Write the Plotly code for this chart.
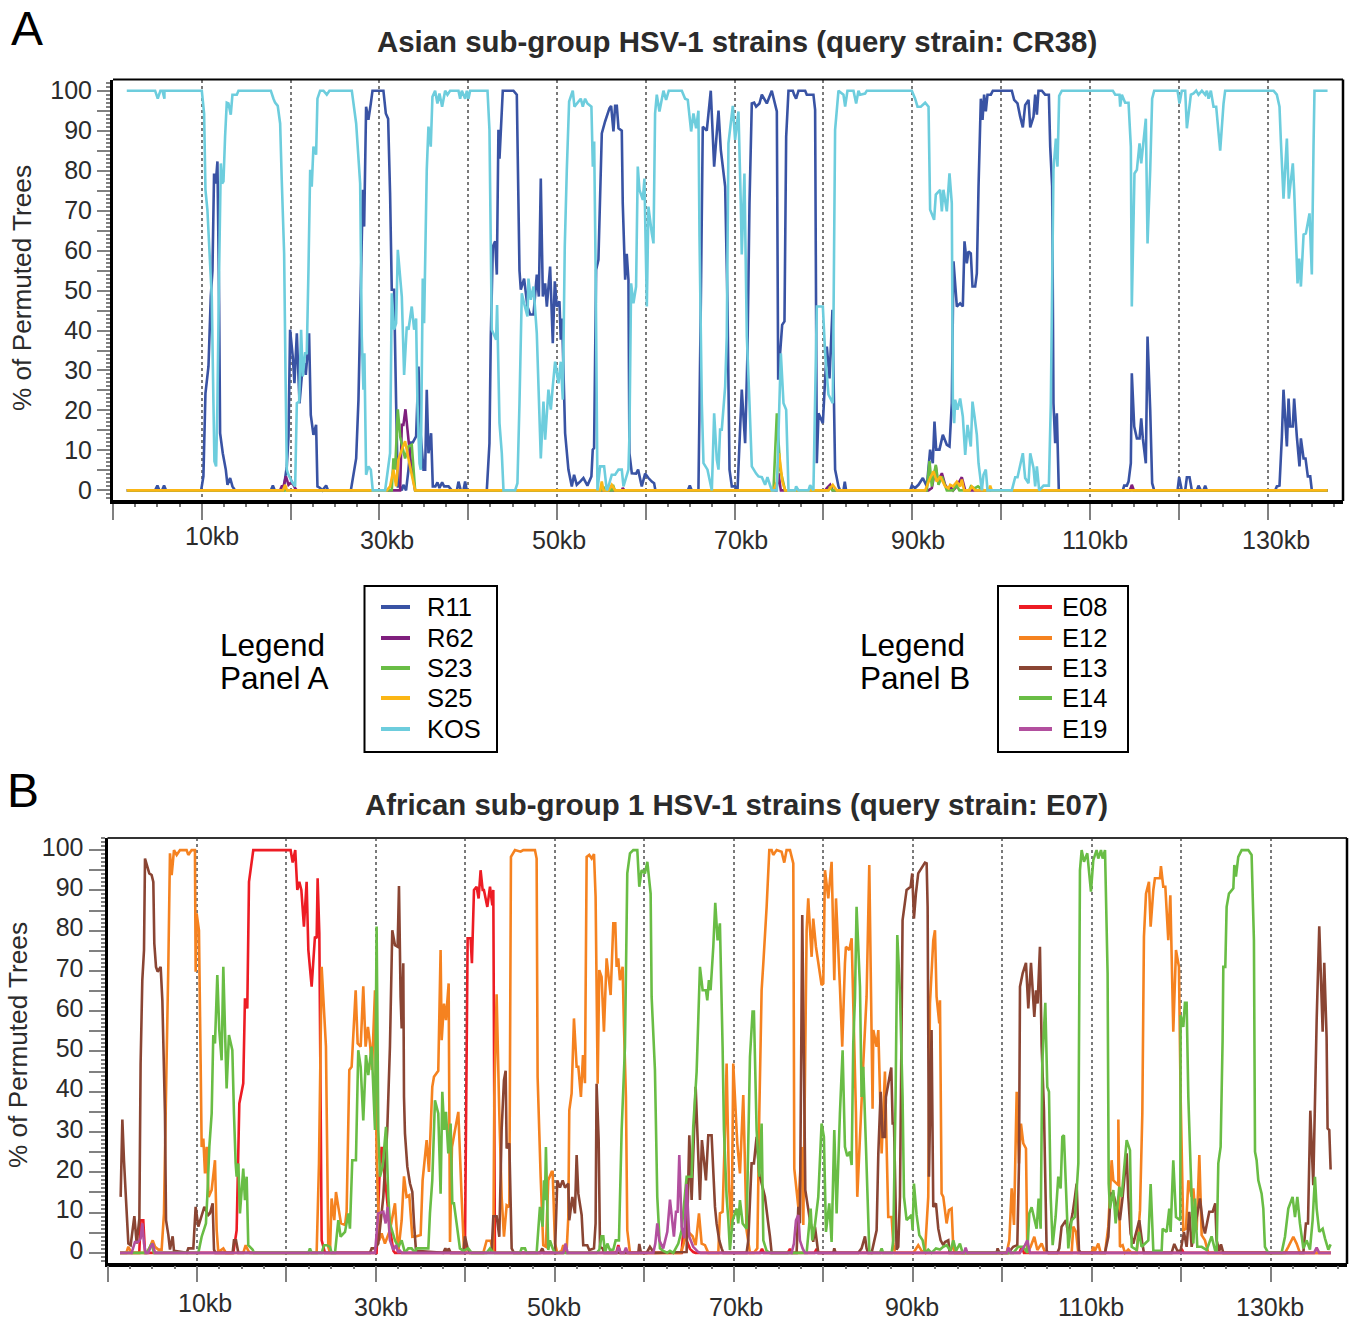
import plotly.graph_objects as go

# Each series is a list of (genome position in kb, % of permuted trees).
R11 = [(1.55,0),(4.74,0),(5.0,1.2),(5.23,0),(5.52,0),(5.75,1.2),(5.98,0),(9.92,0),(10.18,3.5),(10.41,24.3),(10.75,31),(11.01,48.5),(11.2,55),(11.38,79.3),(11.57,76.8),(11.76,82.3),(11.95,46.8),(12.06,14.3),(12.36,9.3),(12.7,5.2),(12.89,1.4),(13.19,3.1),(13.45,1),(13.75,0),(17.77,0),(18,1.2),(18.22,0),(19.19,0),(19.57,6),(19.76,13.5),(19.94,40.2),(20.24,33.5),(20.43,26.8),(20.7,39.3),(21.0,21.8),(21.26,28.5),(21.52,31.8),(21.71,28.9),(22.08,39.3),(22.27,18.9),(22.57,13.9),(22.87,16.4),(23.02,1),(23.32,0.6),(23.58,0),(24,1.2),(24.22,0),(26.78,0),(27.38,8),(27.64,22.7),(27.94,55),(28.13,75.2),(28.28,66),(28.5,96),(28.76,92.7),(29.03,96.8),(29.22,100),(30.45,100),(30.72,94.3),(30.98,93),(31.2,74.3),(31.39,50.2),(31.65,50.2),(31.88,21.8),(32.07,1),(32.3,1),(32.52,0),(32.7,1.4),(33.0,0),(33.27,5.2),(33.53,12),(33.76,12),(34.13,13.5),(34.4,31),(34.66,13.5),(34.96,5.2),(35.15,5.2),(35.33,25.2),(35.52,9.3),(35.82,14.3),(36.01,1),(36.3,1),(36.53,2),(36.76,0.6),(37.06,2),(37.29,1),(37.78,1),(38.15,0),(38.72,0),(38.9,2.2),(39.16,0),(39.46,0),(39.65,2.2),(39.84,0),(42.09,0),(42.39,11.8),(42.54,38.5),(42.77,61),(43.03,62.3),(43.22,54),(43.4,90.2),(43.52,83),(43.89,100),(45.09,100),(45.47,99),(45.77,55),(45.92,50.2),(46.29,53),(46.67,46),(46.97,44),(47.35,44),(47.72,54),(47.95,48.5),(48.17,78),(48.4,48.5),(48.66,51.8),(48.85,46),(49.22,56),(49.52,36.8),(49.75,52.3),(49.97,46),(50.27,47.3),(50.42,37.7),(50.57,43),(50.72,30.2),(50.91,14.3),(51.28,5.2),(51.66,1),(51.92,3.9),(52.22,1.4),(52.6,2.2),(52.97,3.1),(53.42,1.2),(53.87,3.5),(54.02,10.2),(54.17,10.6),(54.4,55.2),(54.66,57.7),(55.04,89.3),(55.41,92.3),(55.9,95.6),(56.09,96.2),(56.35,89.8),(56.54,96.2),(56.73,96.2),(56.92,90.6),(57.29,90),(57.4,71.8),(57.67,52.7),(57.85,59.2),(58.04,52.7),(58.15,9.3),(58.42,4.3),(58.9,4.2),(59.13,5.2),(59.54,1),(59.92,4.2),(60.29,3.1),(60.67,2.2),(60.93,1.8),(61.08,0),(64.72,0),(64.95,1.2),(65.17,0),(65.92,0),(66.19,46.8),(66.41,91),(66.86,90),(67.31,100),(67.69,81),(68.18,95),(68.44,85.2),(68.93,76),(69.19,46.8),(69.42,5.2),(69.68,1),(70.05,1),(70.32,0),(70.8,25.2),(71.18,11.8),(71.44,34.3),(71.67,71.8),(71.93,96.8),(72.19,97),(72.42,96),(72.79,96.8),(73.06,99),(73.62,96.8),(74.18,100),(74.75,94.8),(74.9,27.7),(75.35,41.4),(75.61,42.3),(75.8,88.5),(76.06,100),(76.55,100),(76.7,99),(76.92,98),(77.19,100),(77.94,100),(78.12,99),(78.87,99),(79.06,95.2),(79.25,6.8),(79.44,19.3),(79.93,16.8),(80.38,36),(80.68,28),(81.01,45.2),(81.31,5.2),(81.69,1),(81.88,0),(82.25,0),(82.4,2.2),(82.55,0),(89.76,0),(89.95,1.2),(90.32,0.6),(90.7,1.4),(91.19,3.1),(91.64,1),(92.01,10.2),(92.31,6.8),(92.5,17.2),(92.69,10.2),(93.06,10.2),(93.44,13.9),(93.89,11.4),(94.19,11),(94.45,21.8),(94.64,57.3),(95.02,46),(95.39,46.8),(95.69,46),(95.88,62.3),(96.14,56.8),(96.33,59.8),(96.59,59.3),(96.78,51),(97.08,51),(97.27,54.3),(97.46,76),(97.72,98),(97.91,92.7),(98.09,99),(98.28,94.8),(98.47,99),(98.85,99),(99.07,100),(101.21,100),(101.47,97.7),(101.85,96.8),(102.15,93.5),(102.45,90.8),(102.71,96.4),(103.09,97.7),(103.28,90.8),(103.65,93.5),(103.84,99),(104.03,94),(104.21,100),(104.59,100),(104.96,99),(105.38,99),(105.53,86),(105.75,76),(105.9,21.8),(106.09,11.8),(106.28,19.3),(106.5,0),(113.71,0),(113.86,1.2),(114.16,1.2),(114.35,2.2),(114.61,6.8),(114.72,29.3),(114.99,16),(115.29,13),(115.59,13),(115.78,18),(115.96,13),(116.3,6.8),(116.49,38.5),(116.79,20.2),(117.01,1.8),(117.24,0),(119.87,0),(120.05,3.3),(120.35,0),(120.73,0),(120.92,3.3),(121.22,3.3),(121.48,0),(122.04,0),(122.23,1.2),(122.49,0),(122.79,0),(122.98,1.2),(123.17,0),(130.86,0),(131.05,1),(131.35,1.2),(131.62,13.5),(131.8,25.2),(132.18,11),(132.37,23),(132.55,16),(132.85,16),(133.0,23),(133.3,13.5),(133.6,6),(133.76,13),(134.06,8),(134.28,8),(134.54,3.5),(134.81,3.5),(134.99,0),(136.76,0)]

R62 = [(1.55,0),(18.8,0),(19.0,1),(19.2,1),(19.47,3.5),(19.76,1.4),(20.13,2.2),(20.5,0.6),(20.7,0),(32.33,0),(32.52,16.4),(32.7,16.4),(32.93,20.3),(33.27,12.7),(33.64,5.2),(34.02,0),(57.3,0),(57.4,0.6),(57.6,0),(74.7,0),(74.93,4.3),(75.2,0),(80.2,0),(80.38,0.6),(80.75,1.4),(81.05,0),(91.83,0),(92.2,0.6),(92.65,6),(92.85,2.2),(93.33,4.3),(93.7,1.4),(94.1,0),(94.27,1),(94.6,0),(95.0,1),(95.58,3.3),(95.96,0),(114.5,0),(114.72,1.4),(114.95,0),(136.76,0)]

S23 = [(1.55,0),(31.39,0),(31.58,8),(31.77,5.2),(32.07,20.3),(32.33,13.5),(32.89,8),(33.27,11),(33.64,11.4),(34.02,0),(55.0,0),(55.2,1),(55.4,0),(56.2,0),(56.3,1.4),(56.5,0),(74.37,0),(74.75,19.3),(75.13,5.2),(75.68,0),(80.56,0),(80.75,1),(81.0,0),(91.64,0),(91.94,7.3),(92.2,1),(92.65,6.4),(92.95,1.4),(93.33,3.5),(93.89,0),(94.6,0),(94.96,1.4),(95.3,0),(96.4,0),(96.6,1),(97.0,0.5),(97.4,1),(98.0,0),(136.76,0)]

S25 = [(1.55,0),(19.15,0),(19.38,1.4),(19.6,0),(30.83,0),(31.2,1),(31.58,5.2),(31.88,1),(32.14,7.7),(32.52,10.2),(32.89,12.3),(33.27,8),(33.64,3.9),(34.02,0),(54.85,0),(55.04,2.2),(55.23,0),(55.79,0),(56.16,1.4),(56.54,0),(74.37,0),(74.75,2.2),(75.0,9.3),(75.38,2.2),(75.68,0),(80.56,0),(81.05,1.4),(81.5,0),(91.45,0),(92.01,3.1),(92.39,4.8),(92.76,2.2),(93.14,3.5),(93.7,1),(94.08,0.5),(94.27,1.4),(94.6,1),(95.02,2.2),(95.39,1),(95.58,2.7),(95.84,0),(96.45,0),(96.7,1),(97.08,0),(98.6,0),(98.77,1.2),(98.95,0),(136.76,0)]

KOS = [(1.55,100),(4.74,100),(5.04,98),(5.34,100),(5.57,100),(5.79,98),(5.79,100),(10.0,100),(10.26,94.3),(10.41,75.2),(10.63,70.2),(10.93,56.8),(11.12,48.5),(11.31,21.8),(11.42,7.3),(11.61,6),(11.76,21.8),(11.95,55.2),(12.14,81.8),(12.29,76.8),(12.44,77.3),(12.62,88.5),(12.81,97),(13.0,96.8),(13.26,94),(13.45,99),(13.94,99),(14.13,100),(17.77,100),(18.07,98),(18.25,97),(18.55,96.2),(18.82,91.8),(19.0,77.7),(19.27,59.3),(19.42,30.2),(19.57,5.2),(19.76,3.9),(20.13,2.2),(20.51,1),(20.7,21.8),(20.96,22.2),(21.18,40.2),(21.37,28.5),(21.63,34.3),(21.82,34.3),(22.01,55.2),(22.2,80.2),(22.38,76),(22.57,86),(22.87,84),(23.02,98),(23.32,100),(23.7,100),(24.07,99),(24.37,100),(26.89,100),(27.38,91.8),(27.83,76.8),(28.01,38.5),(28.2,25.2),(28.31,34.3),(28.5,3.9),(28.76,6),(29.03,5.2),(29.25,0),(30.64,0),(30.9,4.3),(31.2,9.3),(31.39,49.3),(31.65,40.2),(31.88,41.8),(32.07,60.2),(32.52,48.5),(32.78,28.9),(33.08,41),(33.27,40.2),(33.64,46),(33.91,40.2),(34.13,43),(34.28,21.8),(34.51,6.8),(34.66,5.2),(34.88,53),(35.03,41.8),(35.33,80.2),(35.52,91),(35.78,86),(35.97,98.5),(36.27,100),(36.53,96.8),(36.76,99.3),(37.06,96),(37.4,100),(37.66,99),(37.96,100),(38.9,100),(39.09,98),(39.28,100),(39.65,98),(39.84,100),(40.03,98),(40.21,100),(42.17,100),(42.39,90.2),(42.65,40.2),(43.14,37.7),(43.25,46.4),(43.52,16.8),(43.78,9.3),(43.97,0),(45.28,0),(45.54,1.8),(45.77,21.8),(46.03,49.3),(46.29,46.8),(46.67,43.5),(46.78,53),(47.05,47.7),(47.35,51),(47.72,39.3),(48.17,8),(48.47,22.2),(48.66,12.7),(49.03,25.2),(49.3,20.2),(49.52,26),(49.78,32.2),(50.16,26.8),(50.42,32.2),(50.65,22.7),(50.87,61),(51.1,80.2),(51.36,97.3),(51.77,100),(51.96,96),(52.67,98),(52.9,96),(53.16,98),(53.42,96.8),(53.87,96),(54.03,81),(54.18,87.3),(54.36,51.8),(54.55,0),(54.85,6),(55.3,6),(55.6,0),(55.79,1),(56.16,3.9),(56.54,3.9),(56.92,5.2),(57.29,5.2),(57.48,1),(58.04,5.2),(58.15,13.5),(58.34,51.8),(58.6,46.8),(58.9,51),(59.09,81),(59.28,75.2),(59.66,72.7),(59.84,78),(60.11,46),(60.29,71),(60.67,64.3),(60.86,61.8),(61.04,94.3),(61.23,99),(61.53,94.8),(61.98,100),(62.28,97.7),(62.58,100),(64.05,100),(64.42,98),(64.72,97.7),(65.1,89.8),(65.36,94.3),(65.66,90.6),(65.92,95),(66.04,63.5),(66.3,21.8),(66.49,6.8),(66.94,5.2),(67.43,0),(67.69,19.3),(67.99,7.7),(68.18,5.2),(68.36,15.2),(68.55,15.2),(68.93,26),(69.11,38.5),(69.3,86.8),(69.79,96.2),(70.05,87.7),(70.43,94.8),(70.69,71.8),(70.8,59),(71.1,79.3),(71.37,38.5),(71.67,21.8),(71.93,6),(72.42,4.2),(72.68,3.5),(73.06,3.3),(73.43,1.4),(73.69,3.3),(74.18,0),(74.75,0),(75.2,34.3),(75.5,21.8),(75.8,20.2),(76.06,0),(76.81,0),(76.92,1),(77.19,0),(78.31,0),(78.5,1.3),(78.87,0),(79.25,46),(79.93,46),(80.19,34.3),(80.56,24),(81.05,21.8),(81.31,90.2),(81.69,100),(82.25,99),(82.44,96),(82.7,100),(83.38,100),(83.68,96.8),(83.94,100),(84.13,99),(84.69,99.3),(84.88,100),(89.95,100),(90.32,98),(90.59,96),(90.96,96),(91.45,97),(91.83,96),(92.01,70.2),(92.46,67.7),(92.65,74),(93.14,75.2),(93.33,69.8),(93.51,75.2),(93.89,69.8),(94.19,79.3),(94.45,71.8),(94.57,21.8),(94.72,16.8),(94.83,22.7),(95.09,20.2),(95.39,23),(95.69,18.5),(95.96,8.9),(96.22,16.4),(96.59,11),(96.78,22.2),(97.01,18.5),(97.27,13.9),(97.46,6.8),(97.83,0),(98.02,3.9),(98.28,5.2),(98.47,0),(101.21,0),(101.59,3.3),(101.85,3.3),(102.45,9.3),(102.71,3.1),(103.09,1.8),(103.28,9.3),(103.65,5.6),(103.84,1),(104.03,6),(104.29,0),(104.78,1.2),(105.38,1.2),(105.6,21.8),(105.9,80.2),(106.17,88),(106.35,81),(106.54,98.7),(106.84,100),(112.58,100),(112.85,99),(113.33,99),(113.41,96),(113.6,99),(113.97,97),(114.35,97),(114.61,86),(114.72,46),(115.02,79.3),(115.29,80.2),(115.59,86.8),(115.78,81.8),(116.3,93),(116.49,61.8),(116.79,80.2),(117.01,98),(117.24,100),(119.87,100),(120.09,96.8),(120.35,100),(120.73,100),(120.92,90.6),(121.37,99),(121.67,99.3),(121.97,100),(122.23,99),(122.61,100),(122.98,99),(123.17,100),(123.36,98),(123.62,100),(123.92,96),(124.22,96),(124.67,85),(125.05,96.8),(125.23,100),(130.68,100),(131.05,99),(131.35,96),(131.5,87.7),(131.8,73),(132.18,88),(132.4,73),(132.85,81.8),(133.0,75.2),(133.38,51.8),(133.57,58),(133.76,51),(134.06,64),(134.32,64.3),(134.73,69.3),(134.99,54),(135.18,86),(135.29,100),(136.76,100)]

E08 = [(1.4,0),(3.55,0),(3.7,8.1),(4.0,8.1),(4.19,0),(14.06,0),(14.43,5.6),(14.73,37.1),(15.17,42.1),(15.36,63.2),(15.62,60.7),(15.81,92.1),(16.29,100),(20.46,100),(20.69,96.9),(20.98,100),(21.21,90.1),(21.43,92.1),(21.66,90.1),(21.95,81),(22.25,92.1),(22.44,75.2),(22.81,66.1),(23.18,78.5),(23.37,78.1),(23.48,93),(23.67,79.3),(23.93,3.1),(24.3,0),(30.07,0),(30.37,18),(30.63,26.3),(30.82,22.2),(31.12,16),(31.49,7.3),(31.94,0.5),(32.12,0),(39.94,0),(40.24,78.1),(40.57,78.1),(40.72,71.9),(40.95,90.1),(41.24,90.9),(41.47,88),(41.69,95),(41.92,90.1),(42.06,90.1),(42.44,85.9),(42.74,90.9),(43,86.3),(43.11,90.1),(43.29,0),(50.9,0),(51.12,1),(51.3,0),(56.85,0),(57.08,1.9),(57.3,0),(64.15,0),(64.34,5.6),(64.71,3.1),(65.08,1),(65.45,0.2),(65.7,0),(72.9,0),(73.13,1),(73.35,0),(76.0,0),(76.26,1),(76.5,0),(79.0,0),(79.24,1),(79.45,0),(101.9,0),(102.15,1.5),(102.4,0),(119.8,0),(120.02,1),(120.25,0),(136.7,0)]

E12 = [(1.4,0),(2.1,0),(2.33,1.5),(2.7,0),(4.38,0),(4.75,1.5),(5.05,3.1),(5.31,1.5),(5.68,0.8),(6.05,0.8),(6.31,9.8),(6.61,48.7),(6.8,71.9),(6.98,99.2),(7.17,93.8),(7.43,100),(7.73,98.8),(8.1,100),(8.84,100),(9.03,98.8),(9.4,100),(9.77,100),(9.85,69.8),(9.96,84.3),(10.22,80.1),(10.41,47),(10.52,26.3),(10.71,28.4),(10.89,19.7),(11.08,26.3),(11.3,13.9),(11.64,15.6),(12.01,23),(12.2,5.6),(12.38,0.2),(12.94,1.1),(13.24,0),(15.17,0),(15.44,1.9),(15.73,0.5),(15.92,0),(23.37,0),(23.63,22.2),(23.93,71),(24.41,51.2),(24.67,1.5),(24.86,0),(25.04,13.5),(25.34,8.1),(25.53,15.1),(25.79,11.4),(26.09,7.3),(26.54,6.9),(26.72,10.2),(27.02,45.4),(27.28,46.2),(27.73,65.2),(27.95,52),(28.29,51.2),(28.58,66.2),(28.84,51.2),(29.1,56.1),(29.33,52),(29.55,45.4),(29.89,65.2),(30.07,23.8),(30.37,3.1),(30.63,4.8),(31,2.3),(31.56,5.6),(32.12,12.3),(32.49,0.2),(32.87,8.1),(33.13,19),(33.42,13.9),(33.72,14.3),(34.06,4),(34.54,4.1),(34.99,4.4),(35.21,18),(35.66,28),(35.92,20.1),(36.29,41.2),(36.48,43.7),(36.96,45.2),(37.22,75.2),(37.34,52.8),(37.6,61.9),(37.82,57.8),(38.12,66.9),(38.27,2.7),(38.49,26.3),(39.2,35),(39.57,13.9),(39.83,0.7),(40.13,0),(41.99,0),(42.36,3),(42.81,3),(43.11,0),(43.22,38.7),(43.48,64.2),(43.78,34.6),(44.04,13.9),(44.3,4),(44.6,11.8),(44.9,11.4),(45.08,98.3),(45.53,100),(46.16,99.6),(46.46,100),(47.76,100),(47.95,97.9),(48.06,43.7),(48.4,18.9),(48.69,1.9),(48.99,1.5),(49.25,18),(49.63,20.1),(49.74,20.1),(50,2.3),(50.26,0),(50.74,0.5),(50.93,1.9),(51.3,0.5),(51.49,8.9),(51.6,35.4),(51.86,39.6),(52.12,58.2),(52.42,46.2),(52.61,46.2),(52.9,38.7),(53.13,49.1),(53.35,42.1),(53.54,98.3),(53.83,98.8),(54.1,97.9),(54.36,99),(54.54,88.4),(54.77,42),(54.95,70.2),(55.21,68.5),(55.47,54.9),(55.77,73.1),(56.22,64),(56.52,81.8),(56.74,81.8),(56.89,71),(57.07,73.1),(57.26,67.7),(57.56,71),(57.71,56.1),(57.93,38.7),(58.08,5.6),(58.38,0),(64.04,0),(64.34,1.9),(64.71,5.6),(65.38,4.1),(65.72,1.9),(66.09,9.8),(66.39,2.3),(66.76,1.9),(67.13,0),(68.25,0),(68.43,9.8),(68.73,10.2),(69,30.5),(69.18,47),(69.44,16.8),(69.74,5.6),(69.92,47),(70.37,27.2),(70.67,19.7),(71.04,39.2),(71.41,5.6),(71.79,0),(72.23,0),(72.61,1.1),(72.83,34.6),(73.09,65.2),(73.28,71.9),(73.65,85.9),(73.95,100),(74.21,100),(74.39,98.8),(74.77,100),(75.32,99.6),(75.62,96.9),(75.88,100),(76.26,100),(76.63,96.7),(76.74,20.9),(77.19,11.4),(77.56,26.3),(77.75,6.9),(78.12,80.1),(78.3,88),(78.68,73.5),(78.86,83),(79.16,76),(79.79,66.5),(79.98,66.9),(80.17,95),(80.54,88),(80.91,97.1),(81.21,67.7),(81.4,88),(81.84,66.1),(82.1,51.2),(82.4,71.9),(82.51,76),(82.89,75.2),(83.15,78.1),(83.33,61.9),(83.63,35),(83.78,13.9),(84.45,47),(84.82,63.6),(85.12,96.3),(85.49,35.8),(85.57,55.3),(85.94,51.2),(86.13,55.3),(86.5,24.7),(86.87,45),(87.24,8.9),(87.62,8.9),(87.8,2.3),(87.99,0),(90.04,0),(90.59,1.9),(90.97,0.5),(91.34,0),(91.71,13.9),(91.9,61.9),(92.27,77.6),(92.46,80.1),(92.64,63.6),(92.94,57),(93.02,62.7),(93.2,14.7),(93.39,13.9),(93.76,7.3),(94.02,10.6),(94.32,11),(94.51,1.1),(94.7,0),(100.47,0),(100.77,3.1),(101.03,16),(101.29,6.9),(101.59,40),(101.85,22.2),(102.07,32.1),(102.33,27.2),(102.63,25.9),(102.78,0),(103.15,1.5),(103.56,4),(103.9,0.7),(104.38,2.3),(104.75,0.2),(105.12,0),(107.73,0),(107.92,6.5),(108.22,5.2),(108.48,0),(109.97,0),(110.15,1.5),(110.34,0.5),(110.71,2.3),(110.97,0),(111.46,0),(111.83,6.5),(112.2,23),(112.39,18),(112.95,16.8),(112.95,33.1),(113.13,1.5),(113.43,1.9),(113.69,0),(114.06,0.8),(114.44,0),(115,0),(115.37,10.6),(115.63,34.6),(115.81,78.5),(116.04,89.2),(116.37,92.1),(116.56,81),(116.86,90.1),(117.04,93),(117.6,93),(117.71,96),(117.97,90.9),(118.2,90.9),(118.53,77.6),(118.76,88.8),(119.09,54.9),(119.39,75.2),(119.72,71),(119.91,38.7),(120.21,5.6),(120.51,6),(120.77,18),(121.14,13.9),(121.33,16),(121.7,5.6),(122,24.3),(122.26,4.4),(122.63,3.1),(123,0),(131.57,0),(131.94,1.5),(132.5,4),(132.87,2.3),(133.24,0),(136.7,0)]

E13 = [(1.47,13.9),(1.66,33.1),(1.84,23),(2.07,13.1),(2.33,2.3),(2.59,1.9),(3.0,9.1),(3.26,2.3),(3.56,8.5),(3.7,47),(3.89,67.7),(4.08,75.2),(4.19,97.9),(4.67,94.2),(4.93,93.8),(5.12,92.1),(5.23,76.8),(5.42,71),(5.6,69.8),(5.94,71),(6.13,62.7),(6.42,34.6),(6.54,8.1),(6.8,4.4),(6.98,0.8),(7.28,4.1),(7.43,0.5),(8.85,0),(9.03,1.1),(9.59,1.1),(9.85,11.4),(10.15,6.5),(10.82,11.4),(11.27,9.4),(11.45,9.8),(11.75,12.3),(11.9,0.8),(12.05,0),(13.98,0),(14.13,3.1),(14.36,3.1),(14.62,0),(29.33,0),(29.52,1.1),(29.89,1.1),(30.26,2.3),(30.82,13.9),(31.26,30.5),(31.56,51.2),(31.82,80.1),(32.12,76.4),(32.42,76),(32.57,91.1),(32.75,63.6),(32.87,55.7),(33.05,71.9),(33.13,38.7),(33.24,29.6),(33.5,21.4),(33.8,17.2),(34.06,15.1),(34.25,7.3),(34.47,0.5),(37.52,0),(37.75,1.1),(37.97,0),(38.12,1.1),(38.35,0),(39.76,0),(39.94,4.1),(40.24,1.1),(40.5,0),(42.92,0),(43.11,9.1),(43.48,9.1),(43.78,4),(44.04,30.5),(44.3,42.9),(44.49,45.2),(44.6,25.9),(44.9,27.2),(45.16,1.1),(45.42,0),(48.32,0),(48.58,1.1),(48.77,0),(50.0,0),(50.26,18),(50.56,16.2),(50.86,18),(51.12,16.2),(51.49,17.2),(51.6,8.1),(51.94,13.9),(52.23,9.8),(52.42,24.3),(52.61,14.7),(52.98,9.4),(53.16,1.9),(53.61,1.9),(53.83,0.7),(54.36,1.1),(54.54,7.3),(54.65,42),(54.88,28),(55.03,1.5),(55.32,1.1),(55.51,0),(59.31,0),(59.42,2.2),(59.61,0),(60.24,0),(60.61,1.5),(60.91,0.5),(61.17,0),(64.71,0.2),(65.01,29.2),(65.27,13.1),(65.72,41.2),(66.2,13.1),(66.42,28),(66.87,18),(67.13,29.2),(67.5,29.2),(67.88,11.4),(68.06,7.3),(68.36,3.1),(68.62,1.1),(68.81,0),(71.41,0),(71.6,3.1),(71.97,22.2),(72.23,22.2),(72.53,28.8),(72.83,19.7),(73.46,13.9),(73.83,7.3),(74.02,4.1),(74.21,0),(77,0),(77.19,11.4),(77.37,7.3),(77.63,83.9),(77.82,47),(77.97,15.6),(78.49,8.1),(78.75,5.6),(78.86,2.7),(79.05,6.5),(79.42,0),(81.1,0),(81.21,1.1),(81.36,0),(83.89,0),(84.26,1.1),(84.64,4.1),(84.82,1.1),(85.01,0),(85.38,0),(85.94,5.6),(86.13,24.7),(86.39,40),(86.61,28.8),(86.87,28.8),(86.98,38.7),(87.35,43.3),(87.58,46),(87.73,32.1),(87.88,32.1),(88.17,0.8),(88.36,1.5),(88.55,13.9),(88.84,82.6),(89.29,90.1),(89.74,90.9),(89.92,94.2),(90.11,83),(90.33,89.2),(90.59,94.2),(91.34,96.9),(91.53,96.7),(91.64,85.9),(91.79,18.9),(92.08,55.3),(92.27,11.4),(92.57,12.3),(92.83,6),(93.09,3.1),(93.39,1.9),(93.58,2.7),(93.95,3.1),(94.1,0),(99.35,0),(99.46,1.1),(99.65,0),(100.66,0),(101.21,1.5),(101.66,1.9),(101.85,22.2),(101.96,66.1),(102.26,69.4),(102.63,72),(102.89,60.7),(103.19,72),(103.56,58.6),(103.75,65.2),(103.93,61.9),(104.19,76),(104.38,51.2),(104.64,35.4),(104.94,0.5),(105.12,0),(106.13,0),(106.35,1.1),(106.61,6.5),(107.1,8.1),(107.36,4.4),(107.84,9.8),(108.1,13.9),(108.29,17.2),(108.55,0.7),(108.74,0),(111.46,0),(111.83,4),(112.09,14.7),(112.38,14.7),(112.76,11.4),(113.13,8.1),(113.43,13.9),(113.88,24.7),(114.06,13.9),(114.32,4.8),(114.62,2.3),(115.29,8.1),(115.63,2.3),(115.81,0),(118.9,0),(119.2,2.2),(119.54,0.5),(119.91,0.5),(120.28,5.2),(120.58,1.5),(120.88,10.2),(121.14,1.5),(122.07,13.5),(122.44,6.5),(122.63,4.8),(123.11,10.2),(123.49,10.2),(123.78,12.3),(123.93,3.1),(124.23,0.5),(124.42,2.1),(124.68,0),(133.62,0),(133.91,7.3),(134.14,7.3),(134.4,35.3),(134.73,16.8),(135.11,57.8),(135.4,81.1),(135.78,54.9),(135.96,72),(136.22,53.6),(136.33,30.9),(136.52,30.5),(136.67,20.7)]

E14 = [(1.4,0),(4.37,0),(4.67,1.1),(4.93,2.3),(5.19,0),(10.15,0),(10.52,4),(11.0,7.3),(11.15,13.9),(11.38,26.3),(11.64,34.6),(11.82,54.1),(12.01,52),(12.27,69),(12.49,55.3),(12.75,47.8),(12.94,71),(13.13,55.3),(13.31,40.8),(13.57,54.1),(13.95,50.3),(14.13,34.6),(14.32,22.2),(14.43,18.9),(14.62,22.2),(14.8,9.8),(15.17,20.9),(15.36,13.1),(15.55,18.9),(15.73,1.9),(16.22,0.8),(16.37,0),(22.44,0),(22.62,1.1),(22.81,0),(23.93,0),(24.19,1.9),(24.49,1.9),(24.86,1.5),(25.04,0),(25.42,0),(25.79,8.1),(26.05,4),(26.54,5.2),(26.91,9.8),(27.09,6),(27.35,23),(27.76,23),(28.02,50.3),(28.29,46.2),(28.58,32.9),(28.88,49.1),(29.14,44.1),(29.51,51.2),(29.89,30.5),(30.07,81),(30.26,30.5),(30.45,18.9),(30.74,21.4),(31.12,31.3),(31.38,13.9),(31.56,7.3),(32.12,3.1),(32.49,1.5),(32.87,3.1),(33.24,0),(33.61,1.1),(33.98,1.1),(34.36,0),(34.54,1.1),(35.29,1.1),(35.85,1.1),(36.03,9.8),(36.29,18),(36.59,37.9),(36.96,34.6),(37.22,14.7),(37.41,40),(37.63,30.5),(37.82,35),(38.08,24.7),(38.34,32.1),(38.53,12.3),(38.71,12.3),(39.01,7.3),(39.38,1.1),(39.76,0.5),(40.31,1.1),(40.69,0),(42.36,0),(42.74,1.1),(43.11,0),(46.09,0),(46.27,1.1),(46.65,1.1),(46.83,0),(47.95,0),(48.32,11.4),(48.62,6.5),(48.77,18),(48.88,13.1),(48.99,26.3),(49.25,0.7),(49.44,3.1),(49.74,1.1),(50,0),(54.65,0),(54.95,0.7),(55.21,4.1),(55.4,4.1),(55.59,0),(55.85,2.3),(56.14,0.7),(56.52,0.8),(56.78,3.1),(57.15,3.1),(57.45,30.5),(57.82,51.2),(58.08,94.2),(58.38,99.2),(58.75,100),(59.2,100),(59.42,90.9),(59.68,95),(60.05,94.2),(60.32,97.1),(60.69,89.2),(60.8,63.6),(61.17,45.4),(61.43,13.9),(61.73,1.1),(62.1,0.5),(62.55,0),(62.85,0.5),(63.22,0),(63.78,2.3),(64.15,5.6),(64.71,18.9),(65.27,18.9),(65.45,31.3),(65.83,45),(66.2,71),(66.5,65.2),(66.87,65.2),(67.02,62.7),(67.2,67.7),(67.39,65.2),(67.69,76),(67.91,86.9),(68.17,77.6),(68.43,81.8),(68.73,51.2),(68.88,30.5),(69.18,13.9),(69.37,8.1),(69.55,0.7),(69.85,8.1),(70.3,11),(70.48,7.3),(70.67,13.1),(70.97,7.3),(71.41,6),(71.79,48.7),(72.08,59.9),(72.23,59.9),(72.53,30.5),(72.83,18.9),(73.09,32.1),(73.28,3.1),(73.65,0.5),(74.02,0),(78.12,0),(78.57,11),(78.75,3.1),(79.05,6.9),(79.42,13.9),(79.79,32.1),(80.05,28.8),(80.28,5.2),(80.65,12.3),(80.91,2.7),(81.21,30.5),(81.47,9.8),(81.84,34.6),(82.14,50.3),(82.4,26.3),(82.66,24),(82.96,25.1),(83.15,21.8),(83.33,52),(83.52,63.2),(83.7,85.9),(84.08,66.1),(84.26,38.7),(84.45,46.2),(84.75,26.3),(85.12,0.5),(85.38,0),(86.31,0),(86.5,1.1),(86.68,0),(87.62,0),(87.8,3.1),(88.06,38.7),(88.25,78.9),(88.55,64.4),(88.84,38.7),(89,13.9),(89.29,8.1),(89.85,9.4),(89.96,5.6),(90.11,17.2),(90.41,9.4),(90.71,4.4),(91.08,3.1),(91.34,0),(91.71,0.8),(92.08,0),(92.57,1.1),(93.02,0.8),(93.39,1.5),(93.76,1.9),(94.2,0.5),(94.51,3.1),(94.81,0.5),(95.25,2.3),(95.55,0),(101.21,0),(101.77,1.5),(102.33,1.5),(102.78,0),(103,9.8),(103.26,11.3),(103.82,6),(104.04,13.5),(104.27,6),(104.45,47),(104.79,62.1),(105.01,41.2),(105.2,40),(105.39,13.9),(105.61,1.9),(105.94,8.9),(106.24,18.9),(106.5,16),(106.69,28.8),(106.87,29.2),(107.36,1.1),(107.73,8.1),(108.1,8.9),(108.48,22.2),(108.66,95),(108.85,100),(109.11,97.1),(109.48,99.2),(109.89,89.7),(110.15,97.5),(110.52,100),(110.71,97.9),(111.01,100),(111.2,97.9),(111.46,100),(111.75,69.4),(111.87,17.2),(112.01,11),(112.39,15.6),(112.65,7.3),(113.06,16.4),(113.32,13.9),(113.88,28),(114.25,25.5),(114.44,1.5),(115,0.7),(115.25,5.2),(115.55,1.5),(116.3,3.1),(116.56,17.1),(116.86,0.5),(117.79,0.5),(117.9,6),(118.35,5.2),(118.64,11),(118.79,5.2),(119.09,23),(119.39,8.9),(119.87,8.1),(119.91,59),(120.21,56.1),(120.39,62.1),(120.58,62.1),(120.77,38.7),(121.03,20.9),(121.33,2.3),(121.51,13.5),(121.77,1.5),(122.26,1.5),(122.82,0.7),(123.37,4.1),(123.75,0.7),(123.93,0),(124.12,22.2),(124.38,26.3),(124.6,52.8),(124.68,71),(124.9,71),(125.05,85.9),(125.31,89.2),(125.8,90.5),(125.91,96.3),(126.09,93.4),(126.35,98.3),(126.73,100),(127.47,100),(127.84,98.8),(128.1,77.6),(128.22,25.1),(128.4,23),(128.59,18),(128.96,14.7),(129.15,11),(129.33,1.5),(129.7,0),(131.19,0),(131.57,4),(131.94,11),(132.42,13.9),(132.69,8.9),(132.95,13.9),(133.24,7.3),(133.62,1.1),(133.99,3.1),(134.36,0.8),(134.66,8.1),(134.92,18.9),(135.11,11),(135.4,5.2),(135.78,6),(136.04,3.6),(136.41,0.8),(136.67,2.1)]

E19 = [(1.4,0),(2.7,0),(3.07,2.7),(3.44,2.7),(3.7,3.6),(3.89,7.3),(4.08,2.3),(4.26,0),(4.56,0),(4.82,1.5),(5.05,2.3),(5.31,0),(29.89,0),(30.26,9.8),(30.82,10.2),(31.08,7.3),(31.3,11.4),(31.56,3.1),(31.94,0.7),(32.23,1.9),(32.49,0),(32.68,0.5),(32.87,0),(50.93,0),(51.19,2.3),(51.41,0),(56.89,0),(57.08,1.5),(57.34,0),(57.71,0),(57.93,1.3),(58.12,0),(60.99,0),(61.21,2.3),(61.43,7.3),(61.66,3.1),(62.1,1.1),(62.55,5.2),(62.85,13.2),(63.29,4),(63.52,10.2),(63.7,10.2),(63.89,24.3),(64.15,6.5),(64.45,3.6),(64.71,17.1),(65.01,4),(65.45,1.5),(66.01,0.2),(66.27,0),(76.44,0),(76.7,2.3),(76.93,8.1),(77.19,9.4),(77.37,3.1),(77.67,1.1),(77.93,0),(95.7,0),(95.89,1.3),(96.07,0),(100.47,0),(100.66,1.3),(100.92,0),(101.96,0),(102.52,1.9),(102.78,3.1),(103.08,0),(134.81,0),(135.11,1.3),(135.4,0),(136.7,0)]

NAMES_A = ["R11", "R62", "S23", "S25", "KOS"]
SERIES_A = [R11, R62, S23, S25, KOS]
COLORS_A = ["#3953a4", "#7f1f7d", "#69bd45", "#fbb615", "#6dcddd"]
NAMES_B = ["E08", "E12", "E13", "E14", "E19"]
SERIES_B = [E08, E12, E13, E14, E19]
COLORS_B = ["#ed1c24", "#f58220", "#8a4533", "#69bd45", "#b24f9e"]

TITLE_A = "Asian sub-group HSV-1 strains (query strain: CR38)"
TITLE_B = "African sub-group 1 HSV-1 strains (query strain: E07)"
Y_TITLE = "% of Permuted Trees"
Y_TICKS = list(range(0, 101, 5))
Y_LABELS = [str(v) if v % 10 == 0 else "" for v in Y_TICKS]
KB_LABELS = ["10kb", "30kb", "50kb", "70kb", "90kb", "110kb", "130kb"]
KB_POS_A = [11.1, 30.9, 50.2, 70.7, 90.6, 110.6, 130.9]
KB_POS_B = [10.9, 30.6, 49.9, 70.2, 89.9, 109.9, 129.9]

W, H = 1354, 1321
FONT = "Liberation Sans"
TXT = "#2b2b2b"

def px(v): return v / W
def py(v): return 1 - v / H

fig = go.Figure()
for names, series, colors, xa, ya in [(NAMES_A, SERIES_A, COLORS_A, "x", "y"),
                                      (NAMES_B, SERIES_B, COLORS_B, "x2", "y2")]:
    for n, s, c in zip(names, series, colors):
        fig.add_trace(go.Scatter(x=[p[0] for p in s], y=[p[1] for p in s], mode="lines", name=n,
                                 line=dict(color=c, width=2.6, simplify=False), xaxis=xa, yaxis=ya,
                                 showlegend=False, hovertemplate=n + " %{x}kb: %{y}%<extra></extra>"))

def xaxis(dom, rng, anchor):
    return dict(domain=dom, range=rng, anchor=anchor, showline=True, linecolor="black", linewidth=3.5,
                ticks="outside", ticklen=16, tickwidth=2, tickcolor="#808080", tick0=0, dtick=10,
                showticklabels=False, showgrid=True, gridcolor="#7a7a7a", gridwidth=1.5,
                griddash="3px,3px", zeroline=False,
                minor=dict(ticks="outside", ticklen=3, tickwidth=2, tickcolor="#777777", dtick=2.5, tick0=0, showgrid=False))

def yaxis(dom, rng, anchor, ticklen, shift):
    return dict(domain=dom, range=rng, anchor=anchor, showline=True, linecolor="black", linewidth=3,
                ticks="outside", ticklen=ticklen, tickwidth=1.8, tickcolor="#808080", tickmode="array",
                tickvals=Y_TICKS, ticktext=Y_LABELS, tickfont=dict(family=FONT, size=25, color=TXT),
                ticklabelshift=shift, showgrid=False, zeroline=False,
                minor=dict(ticks="outside", ticklen=4, tickwidth=1.5, tickcolor="#808080", dtick=1, tick0=0, showgrid=False))

fig.update_layout(
    width=W, height=H, margin=dict(l=0, r=0, t=0, b=0, autoexpand=False), paper_bgcolor="white", plot_bgcolor="white",
    showlegend=False,
    xaxis=xaxis([px(113), px(1343)], [0, 138.5], "y"),
    yaxis=yaxis([py(500), py(79.5)], [-2.4, 102.8], "x", 13, 0),
    xaxis2=xaxis([px(107.5), px(1347)], [0, 138.5], "y2"),
    yaxis2=yaxis([py(1262.5), py(838)], [-2.4, 103], "x2", 16, -3),
)

ann = []
def txt(x, y, s, size, xref="paper", yref="paper", bold=False, xanchor="center", angle=0, color=TXT):
    ann.append(dict(x=x, y=y, xref=xref, yref=yref, text=f"<b>{s}</b>" if bold else s, showarrow=False,
                    font=dict(family=FONT, size=size, color=color), xanchor=xanchor, yanchor="middle",
                    textangle=angle))

txt(px(737), py(41), TITLE_A, 29.4, bold=True)
txt(px(736.5), py(804), TITLE_B, 29.4, bold=True)
txt(px(27), py(28), "A", 48, color="black")
txt(px(23), py(790), "B", 48, color="black")
txt(px(22), py(288), Y_TITLE, 26.2, angle=-90)
txt(px(18), py(1045), Y_TITLE, 26.2, angle=-90)
for i, (lab, p) in enumerate(zip(KB_LABELS, KB_POS_A)):
    txt(p, py(536 if i == 0 else 540), lab, 25, xref="x")
for lab, p in zip(KB_LABELS, KB_POS_B):
    txt(p, py(1303 if lab == "10kb" else 1307), lab, 25, xref="x2")
txt(px(218), py(645), "Legend", 31.5, xanchor="left", color="black")
txt(px(218), py(678), "Panel A", 31.5, xanchor="left", color="black")
txt(px(857.5), py(645), "Legend", 31.5, xanchor="left", color="black")
txt(px(857.5), py(678), "Panel B", 31.5, xanchor="left", color="black")

shapes = []
# Panel frames (top and right edges)
for l, r, t, b, c in [(113, 1343, 79.5, 501, "black"), (107.5, 1347, 838, 1264, "#333333")]:
    shapes.append(dict(type="line", xref="paper", yref="paper", x0=px(l), x1=px(r), y0=py(t), y1=py(t),
                       line=dict(color=c, width=1.8)))
    shapes.append(dict(type="line", xref="paper", yref="paper", x0=px(r), x1=px(r), y0=py(t), y1=py(b),
                       line=dict(color="black", width=2.5)))

# Legend boxes
KEY_ROWS = [607, 638, 668, 698, 729]
for names, colors, l, r, kx0, kx1, tx in [(NAMES_A, COLORS_A, 364.5, 497, 381, 410, 424.5),
                                          (NAMES_B, COLORS_B, 998, 1128, 1019, 1052, 1059.5)]:
    shapes.append(dict(type="rect", xref="paper", yref="paper", x0=px(l), x1=px(r), y0=py(586), y1=py(752),
                       line=dict(color="black", width=2), fillcolor="white"))
    for n, c, row in zip(names, colors, KEY_ROWS):
        shapes.append(dict(type="line", xref="paper", yref="paper", x0=px(kx0), x1=px(kx1), y0=py(row), y1=py(row),
                           line=dict(color=c, width=4)))
        txt(px(tx), py(row), n, 25.5, xanchor="left", color="black")

fig.update_layout(annotations=ann, shapes=shapes)
fig.write_html("out.html", config=dict(displayModeBar=False),
               post_script="document.body.style.margin='0';document.body.style.overflow='hidden';")
